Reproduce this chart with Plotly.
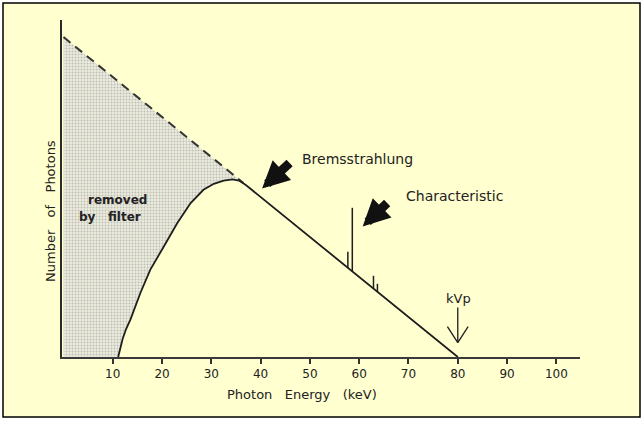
import plotly.graph_objects as go
import numpy as np

# filtered x-ray spectrum (keV, relative photon count)
filtered_energy = [11.1, 11.4, 12.0, 12.7, 13.6, 15.6, 17.6, 20.3, 23.1, 25.8, 28.4, 30.5, 32.5, 34.3, 35.6, 37.0, 80.0]
filtered_count = [0.0, 1.5, 4.5, 7.0, 9.4, 16.0, 21.8, 27.5, 33.5, 38.5, 41.8, 43.3, 44.1, 44.4, 44.1, 43.0, 0.0]

# unfiltered (Kramers) spectrum, dashed part
unfiltered_energy = [0.0, 36.5]
unfiltered_count = [80.0, 43.5]

# characteristic lines
char_energy = [57.7, 58.6, 62.9, 63.7]
char_top = [26.3, 37.3, 20.3, 18.3]

tick_vals = [10, 20, 30, 40, 50, 60, 70, 80, 90, 100]
kvp = 80

ink = "#1e1e1e"
txt = "#222222"
cream = "#FFFFD0"
font = "DejaVu Sans"
sp = "\u00a0\u00a0\u00a0"

W, H = 644, 423
L, R, T, B = 62, 64, 20, 66
pw, ph = W - L - R, H - T - B
YMAX = 84.25


def px_x(p):
    return (p - L) / pw


def px_y(p):
    return (H - B - p) / ph


def label(text, x, y, size=12, anchor="center", angle=0):
    return dict(x=px_x(x), y=px_y(y), xref="paper", yref="paper", text=text,
                xanchor=anchor, yanchor="middle", textangle=angle, showarrow=False,
                font=dict(family=font, size=size, color=txt))


fig = go.Figure()

# shaded region removed by the filter
cut = [i for i, e in enumerate(filtered_energy) if e <= unfiltered_energy[-1]]
fill_x = [0.0] + unfiltered_energy + [filtered_energy[i] for i in reversed(cut)] + [0.0]
fill_y = [0.0] + unfiltered_count + [filtered_count[i] for i in reversed(cut)] + [0.0]
fig.add_trace(go.Scatter(
    x=fill_x, y=fill_y, mode="lines", fill="toself",
    line=dict(width=0),
    fillcolor="#dcdcc8",
    fillpattern=dict(shape=".", fgcolor="#929289", bgcolor="#ebebde", size=3, solidity=0.35),
    hoverinfo="skip",
))

# dashed unfiltered line
fig.add_trace(go.Scatter(
    x=unfiltered_energy, y=unfiltered_count, mode="lines",
    line=dict(color="#333333", width=2, dash="9px,6px"),
))

# filtered spectrum
fig.add_trace(go.Scatter(
    x=filtered_energy, y=filtered_count, mode="lines",
    line=dict(color=ink, width=1.8),
))

# characteristic spikes sitting on the spectrum
spike_x, spike_y = [], []
for e, top in zip(char_energy, char_top):
    base = float(np.interp(e, filtered_energy, filtered_count))
    spike_x += [e, e, None]
    spike_y += [base, top, None]
fig.add_trace(go.Scatter(
    x=spike_x, y=spike_y, mode="lines",
    line=dict(color=ink, width=1.5),
))

annotations = [
    label(f"Number{sp}of{sp}Photons", 51, 211, size=13, angle=-90),
    label(f"Photon{sp}Energy{sp}(keV)", 302, 395, size=13),
    label("<b>removed</b>", 117, 200, size=12),
    label(f"<b>by{sp}filter</b>", 110, 217, size=12),
    label("Bremsstrahlung", 300, 159, size=14, anchor="left"),
    label("Characteristic", 404, 196, size=14, anchor="left"),
    label("kVp", 458, 298, size=13),
    # big black arrows
    dict(x=40.3, y=42.1, xref="x", yref="y", text="", showarrow=True,
         ax=29, ay=-27, arrowhead=2, arrowsize=0.6, arrowwidth=9, arrowcolor="#111111"),
    dict(x=60.7, y=32.6, xref="x", yref="y", text="", showarrow=True,
         ax=26, ay=-25, arrowhead=2, arrowsize=0.6, arrowwidth=9, arrowcolor="#111111"),
]

shapes = [
    # cream panel with black border
    dict(type="rect", xref="paper", yref="paper", layer="below",
         x0=px_x(3), x1=px_x(640), y0=px_y(417), y1=px_y(3),
         fillcolor=cream, line=dict(color="black", width=1.5)),
    # kVp arrow (thin, open head)
    dict(type="line", xref="x", yref="y", x0=kvp, x1=kvp, y0=12.4, y1=3.6,
         line=dict(color=ink, width=1.3)),
    dict(type="line", xref="x", yref="y", x0=kvp - 2.1, x1=kvp, y0=7.6, y1=3.6,
         line=dict(color=ink, width=1.3)),
    dict(type="line", xref="x", yref="y", x0=kvp + 2.1, x1=kvp, y0=7.6, y1=3.6,
         line=dict(color=ink, width=1.3)),
]

fig.update_layout(
    width=W, height=H,
    margin=dict(l=L, r=R, t=T, b=B),
    paper_bgcolor="white",
    plot_bgcolor="rgba(0,0,0,0)",
    showlegend=False,
    annotations=annotations,
    shapes=shapes,
    xaxis=dict(
        range=[-0.3, 104.8], tickvals=tick_vals, ticks="outside", ticklen=5,
        tickwidth=1.5, tickcolor="#333333",
        showgrid=False, zeroline=False, showline=True, linecolor="#3a3a3a", linewidth=2,
        tickfont=dict(family=font, size=12, color=txt),
        fixedrange=True,
    ),
    yaxis=dict(
        range=[0, YMAX], showticklabels=False, ticks="",
        showgrid=False, zeroline=False, showline=True, linecolor="#2a2a2a", linewidth=2,
        fixedrange=True,
    ),
)

# drop the default page margin so the figure sits at the window origin
fig.write_html("out.html", config=dict(displayModeBar=False),
               post_script="document.body.style.margin='0';")
